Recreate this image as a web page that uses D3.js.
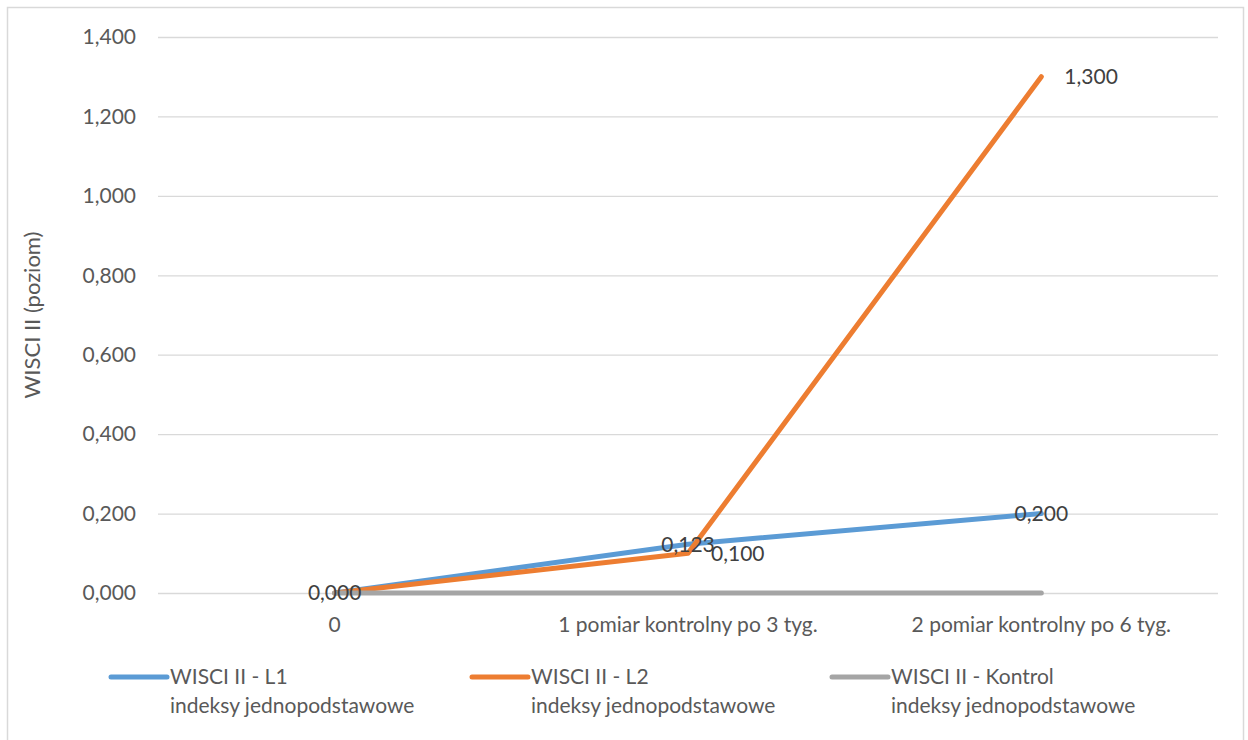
<!DOCTYPE html>
<html><head><meta charset="utf-8">
<script src="https://cdn.jsdelivr.net/npm/d3@7"></script>
<style>body{margin:0;background:#fff}svg{display:block}</style>
</head><body><svg id="c" width="1248" height="740"></svg>
<script>
const categories = ["0", "1 pomiar kontrolny po 3 tyg.", "2 pomiar kontrolny po 6 tyg."];
const seriesNames = ["WISCI II - L1", "WISCI II - L2", "WISCI II - Kontrol"];
const seriesSub = ["indeksy jednopodstawowe", "indeksy jednopodstawowe", "indeksy jednopodstawowe"];
const valuesL1 = [0, 0.123, 0.2];
const valuesL2 = [0, 0.1, 1.3];
const valuesKontrol = [0, 0, 0];
const yTicks = [0, 0.2, 0.4, 0.6, 0.8, 1.0, 1.2, 1.4];
const yTitle = "WISCI II (poziom)";
const colors = ["#5B9BD5", "#ED7D31", "#A5A5A5"];
// label placement per series per point: 'c' centered, 'r' right, null none
const labelPos = [["c","c","c"], [null,"r","r"], [null,null,null]];

const svg = d3.select("#c");
const font = "Lato, 'Open Sans', sans-serif";
const fs = "21px";
const txt = "#595959";
svg.append("rect").attr("x",7.5).attr("y",7.5).attr("width",1236).attr("height",740)
  .attr("fill","#fff").attr("stroke","#D9D9D9").attr("stroke-width",1.5);

const L = 158, R = 1218, T = 37, B = 593;
const x = d3.scaleBand().domain(categories).range([L, R]);
const y = d3.scaleLinear().domain([0, 1.4]).range([B, T]);
const fmt = v => d3.format(".3f")(v).replace(".", ",");

const yAxis = d3.axisLeft(y).tickValues(yTicks).tickSize(-(R - L)).tickPadding(22).tickFormat(fmt);
const gy = svg.append("g").attr("transform", `translate(${L},0)`).call(yAxis);
gy.select(".domain").remove();
gy.selectAll("line").attr("stroke", "#D9D9D9").attr("stroke-width", 1.3);
gy.selectAll("text").attr("fill", txt).style("font-family", font).style("font-size", fs);

const xAxis = d3.axisBottom(x).tickSize(0).tickPadding(24);
const gx = svg.append("g").attr("transform", `translate(0,${B})`).call(xAxis);
gx.select(".domain").remove();
gx.selectAll("text").attr("fill", txt).style("font-family", font).style("font-size", fs);

svg.append("text").attr("transform", `translate(40,${(T + B) / 2}) rotate(-90)`)
  .attr("text-anchor", "middle").attr("fill", txt).style("font-family", font).style("font-size", "22px")
  .text(yTitle);

const allSeries = [valuesL1, valuesL2, valuesKontrol];
const cx = c => x(c) + x.bandwidth() / 2;
const line = d3.line().x((d, i) => cx(categories[i])).y(d => y(d));
[0, 1, 2].forEach(s => {
  svg.append("path").datum(allSeries[s]).attr("d", line).attr("fill", "none")
    .attr("stroke", colors[s]).attr("stroke-width", 5).attr("stroke-linejoin", "round").attr("stroke-linecap", "round");
});
[0, 1, 2].forEach(s => {
  allSeries[s].forEach((v, i) => {
    const p = labelPos[s][i];
    if (!p) return;
    const px = cx(categories[i]), py = y(v);
    svg.append("text").attr("x", p === "r" ? px + 23 : px).attr("y", py)
      .attr("dy", "0.35em").attr("text-anchor", p === "r" ? "start" : "middle")
      .attr("fill", "#404040").style("font-family", font).style("font-size", fs)
      .text(fmt(v));
  });
});

const legX = [111, 472, 832];
seriesNames.forEach((n, s) => {
  const g = svg.append("g").attr("transform", `translate(${legX[s]},677)`);
  g.append("line").attr("x1", 0).attr("x2", 56).attr("stroke", colors[s]).attr("stroke-width", 5).attr("stroke-linecap", "round");
  g.append("text").attr("x", 59).attr("y", 0).attr("dy", "0.35em").attr("fill", txt)
    .style("font-family", font).style("font-size", fs).text(n);
  g.append("text").attr("x", 59).attr("y", 29).attr("dy", "0.35em").attr("fill", txt)
    .style("font-family", font).style("font-size", fs).text(seriesSub[s]);
});
</script></body></html>
